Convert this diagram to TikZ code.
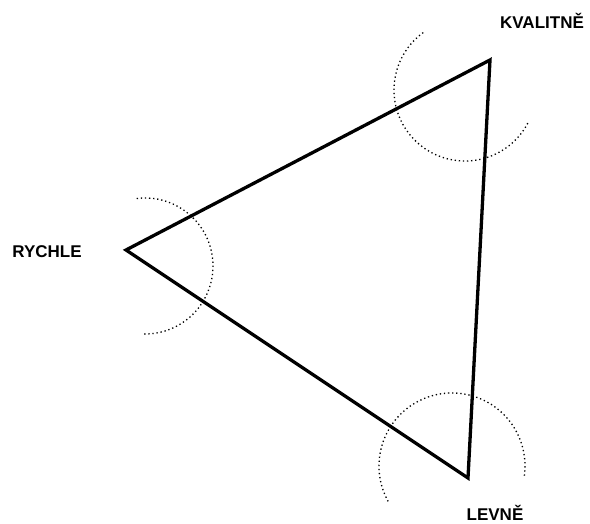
\documentclass[tikz,border=0pt]{standalone}
\usepackage{fontspec}
\setmainfont{Liberation Sans}
\usetikzlibrary{positioning}

\begin{document}
\begin{tikzpicture}[
    x=1pt, y=1pt,
    side/.style={
      line width=3.3pt,
      line join=miter
    },
    dotarc/.style={
      line width=1.3pt,
      dash pattern=on 1.3pt off 2.8pt
    },
    tag/.style={
      font=\fontsize{17}{20}\selectfont\bfseries,
      inner sep=0pt
    }
  ]
  \useasboundingbox (0,0) rectangle (590,523);

  % corners of the triangle
  \coordinate (kval) at (490,463);
  \coordinate (rych) at (126,273);
  \coordinate (levn) at (468,45);

  \draw[side] (kval) -- (rych) -- (levn) -- cycle;

  % dotted arcs round the corners
  \draw[dotarc] (465,433) ++(126:71) arc[start angle=126, end angle=333, radius=71];
  \draw[dotarc] (145,257) ++(97:68) arc[start angle=97, end angle=-92, radius=68];
  \draw[dotarc] (452,57) ++(209:73) arc[start angle=209, end angle=-9, radius=73];

  \node[tag] (kvaltag) at (542,502) {KVALITNĚ};
  \node[tag] (rychtag) at (47,271) {RYCHLE};
  \node[tag] (levntag) at (495,10) {LEVNĚ};

\end{tikzpicture}
\end{document}
